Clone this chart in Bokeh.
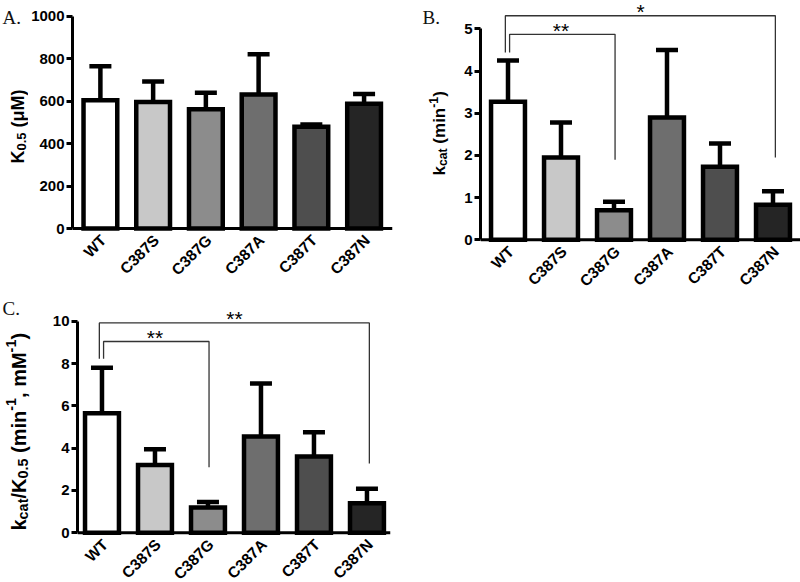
import math
from bokeh.plotting import figure
from bokeh.models import Range1d, FixedTicker, Label, Whisker, TeeHead, ColumnDataSource, Span
from bokeh.layouts import column, row
from bokeh.embed import file_html
from bokeh.resources import INLINE
from bokeh.core.properties import value, field

# ---------------- data ----------------
categories = ["WT", "C387S", "C387G", "C387A", "C387T", "C387N"]
bar_colors = ["#ffffff", "#c8c8c8", "#8c8c8c", "#6e6e6e", "#4e4e4e", "#252525"]

k05_mean = [605, 597, 562, 632, 480, 588]
k05_upper = [765, 693, 640, 822, 490, 635]

kcat_mean = [3.27, 1.95, 0.70, 2.90, 1.73, 0.83]
kcat_upper = [4.25, 2.78, 0.90, 4.50, 2.28, 1.15]

eff_mean = [5.65, 3.20, 1.20, 4.55, 3.60, 1.40]
eff_upper = [7.80, 3.95, 1.45, 7.05, 4.75, 2.08]

A_yticks = [0, 200, 400, 600, 800, 1000]
B_yticks = [0, 1, 2, 3, 4, 5]
C_yticks = [0, 2, 4, 6, 8, 10]

# significance brackets (category index pairs)
B_sig_pairs = [(0, 2), (0, 5)]
B_sig_text = ["**", "*"]
B_sig_top = [4.87, 5.31]
B_sig_left_bottom = [4.44, 4.44]
B_sig_right_bottom = [1.90, 1.95]

C_sig_pairs = [(0, 2), (0, 5)]
C_sig_text = ["**", "**"]
C_sig_top = [9.04, 9.92]
C_sig_left_bottom = [8.22, 8.22]
C_sig_right_bottom = [3.10, 3.27]

xs = list(range(len(categories)))

# ---------------- style ----------------
SANS = "Liberation Sans"
SERIF = "Liberation Serif"
BAR_W = 0.64
BAR_LW = 4.5
LEG_L_OFF = [0.03, -0.05]
LEG_R_OFF = [0.02, 0.045]

CW = {' ': 278, '(': 333, ')': 333, ',': 278, '-': 333, '.': 278, '/': 278,
      '0': 556, '1': 556, '5': 556, 'K': 722, 'M': 833, 'a': 556, 'c': 556,
      'i': 278, 'k': 556, 'm': 889, 'n': 611, 't': 333, 'μ': 576}


def text_width(s, size):
    return sum(CW.get(ch, 556) for ch in s) * size / 1000.0


def helper(width, height):
    h = figure(width=width, height=height, output_backend="svg", toolbar_location=None,
               x_range=Range1d(0, width), y_range=Range1d(0, height),
               x_axis_type=None, y_axis_type=None, title=None,
               min_border_left=0, min_border_right=0, min_border_top=0, min_border_bottom=0)
    h.outline_line_color = None
    h.xgrid.visible = False
    h.ygrid.visible = False
    return h


def axis_title(h, pieces, x0, y0, size):
    sub = size * 0.72
    y = y0
    d = dict(x=[], y=[], text=[], size=[])
    for txt, kind in pieces:
        fs = size if kind == "n" else sub
        dx = 0 if kind == "n" else (0.2 * size if kind == "sub" else -0.36 * size)
        # leading blanks would be collapsed in svg: advance past them instead
        stripped = txt.lstrip(" ")
        y += text_width(txt[:len(txt) - len(stripped)], fs)
        d["x"].append(x0 + dx)
        d["y"].append(y)
        d["text"].append(stripped)
        d["size"].append(f"{fs:.1f}px")
        y += text_width(stripped, fs)
    h.text(x="x", y="y", text="text", source=ColumnDataSource(d), angle=math.pi / 2,
           text_align="left", text_baseline="alphabetic", text_font=value(SANS),
           text_font_style="bold", text_font_size=field("size"), text_color="black")


def panel_letter(h, txt, x0, y0):
    h.add_layout(Label(x=x0, y=y0, text=txt, text_align="left", text_baseline="alphabetic",
                       text_font=SERIF, text_font_size="19px", text_color="#111111"))


def make_panel(width, height, borders, xr, yr, ybound, yticks, means, uppers):
    bl, br, bt, bb = borders
    p = figure(width=width, height=height, output_backend="svg", toolbar_location=None,
               x_range=Range1d(*xr), y_range=Range1d(*yr), title=None,
               min_border_left=bl, min_border_right=br, min_border_top=bt, min_border_bottom=bb)
    p.outline_line_color = None
    p.xgrid.visible = False
    p.ygrid.visible = False
    p.background_fill_color = "white"
    p.border_fill_color = "white"

    src = ColumnDataSource(dict(x=xs, top=means, upper=uppers, color=bar_colors,
                                name=categories, base=[0] * len(xs)))
    p.vbar(x="x", top="top", width=BAR_W, fill_color="color", line_color="black",
           line_width=BAR_LW, line_join="miter", source=src)
    p.add_layout(Whisker(source=src, base="x", lower="top", upper="upper",
                         line_color="black", line_width=BAR_LW,
                         upper_head=TeeHead(size=22, line_color="black", line_width=BAR_LW),
                         lower_head=None))

    # x axis: line at zero, category labels rotated 45 degrees
    p.xaxis.visible = False
    p.add_layout(Span(location=0, dimension="width", line_color="black", line_width=3))
    p.text(x="x", y="base", text="name", source=src, angle=math.pi / 4,
           text_align="right", text_baseline="top", x_offset=-3, y_offset=3,
           text_font=value(SANS), text_font_style="bold", text_font_size="15.5px",
           text_color="black")

    ya = p.yaxis[0]
    ya.ticker = FixedTicker(ticks=yticks)
    ya.bounds = (0, ybound)
    ya.major_tick_out = 6
    ya.major_tick_in = 0
    ya.minor_tick_out = 0
    ya.minor_tick_in = 0
    ya.major_tick_line_width = 3
    ya.axis_line_width = 3
    ya.axis_line_color = "black"
    ya.major_tick_line_color = "black"
    ya.major_label_standoff = 2
    ya.major_label_text_font = SANS
    ya.major_label_text_font_style = "bold"
    ya.major_label_text_font_size = "15px"
    ya.major_label_text_color = "black"
    return p


def brackets(p, pairs, tops, lbot, rbot, texts):
    bx, by = [], []
    for i, ((a, b), t, lb, rb) in enumerate(zip(pairs, tops, lbot, rbot)):
        x1 = xs[a] + LEG_L_OFF[i]
        x2 = xs[b] + LEG_R_OFF[i]
        bx.append([x1, x1, x2, x2])
        by.append([lb, t, t, rb])
    p.multi_line(bx, by, line_color="#333333", line_width=1.3)
    for (a, b), t, txt in zip(pairs, tops, texts):
        p.add_layout(Label(x=(xs[a] + xs[b]) / 2, y=t, text=txt, text_align="center",
                           text_baseline="alphabetic", text_font=SANS, text_font_size="21px",
                           y_offset=4, text_color="black"))


# ---------------- panel A ----------------
hA = helper(28, 290)
axis_title(hA, [("K", "n"), ("0.5", "sub"), (" (μM)", "n")], 17, 127, 18)
panel_letter(hA, "A.", 2, 273)
pA = make_panel(372, 290, (43, 8, 0, 0), (-0.529, 5.539), (-292.45, 1075.47), 1000,
                A_yticks, k05_mean, k05_upper)

# ---------------- panel B ----------------
hB = helper(52, 290)
axis_title(hB, [("k", "n"), ("cat", "sub"), (" (min", "n"), ("-1", "sup"), (")", "n")],
           39, 115, 17)
panel_letter(hB, "B.", 22, 273)
pB = make_panel(348, 290, (28, 0, 0, 0), (-0.519, 5.519), (-1.201, 5.671), 5,
                B_yticks, kcat_mean, kcat_upper)
brackets(pB, B_sig_pairs, B_sig_top, B_sig_left_bottom, B_sig_right_bottom, B_sig_text)

# ---------------- panel C ----------------
hC = helper(44, 292)
axis_title(hC, [("k", "n"), ("cat", "sub"), ("/K", "n"), ("0.5", "sub"), (" (min", "n"),
                ("-1", "sup"), (", mM", "n"), ("-1", "sup"), (")", "n")], 18, 52, 20)
panel_letter(hC, "C.", 2, 274)
pC = make_panel(356, 292, (33, 10, 0, 0), (-0.462, 5.444), (-2.349, 11.451), 10,
                C_yticks, eff_mean, eff_upper)
brackets(pC, C_sig_pairs, C_sig_top, C_sig_left_bottom, C_sig_right_bottom, C_sig_text)

layout = column(row(hA, pA, hB, pB), row(hC, pC))
open("out.html", "w").write(file_html(layout, INLINE))
